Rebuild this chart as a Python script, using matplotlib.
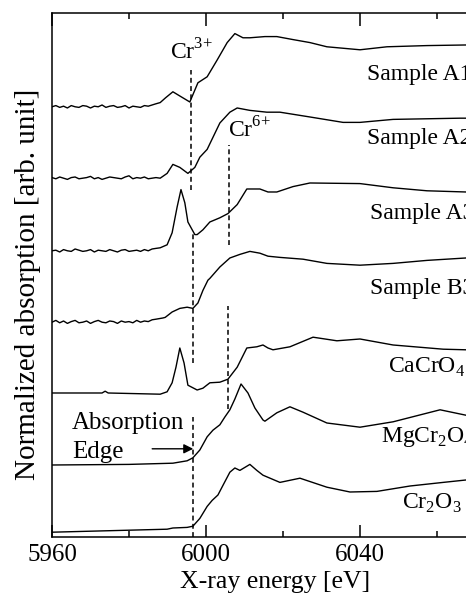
import matplotlib
matplotlib.use("Agg")
import matplotlib.pyplot as plt
from matplotlib.ticker import MultipleLocator

plt.rcParams['font.family'] = ['Liberation Serif', 'DejaVu Serif']
plt.rcParams['mathtext.fontset'] = 'custom'
plt.rcParams['mathtext.rm'] = 'Liberation Serif'

# pre-edge energy grid (eV) shared by the noisy sample spectra
pre_e = list(range(5960, 5988))

# Sample A1
a1_noise = [0.00, 0.02, -0.01, 0.01, -0.02, 0.02, 0.00, -0.01, 0.02, 0.01, -0.02, 0.01, 0.00, 0.03,
            -0.01, 0.01, 0.02, -0.01, 0.00, 0.02, -0.02, 0.01, 0.00, -0.01, 0.02, 0.01, 0.03, 0.05]
a1_e = pre_e + [5988.1, 5989.5, 5991.4, 5993.2, 5995.8, 5997.9, 6000.3, 6002.9, 6005.5, 6007.5, 6009.6,
                6011.4, 6015.3, 6018.4, 6022.6, 6027.0, 6031.4, 6040.0, 6047.0, 6057.4, 6067.5, 6075]
a1_v = a1_noise + [0.07, 0.15, 0.25, 0.18, 0.08, 0.40, 0.50, 0.78, 1.07, 1.22, 1.15,
                   1.15, 1.17, 1.17, 1.12, 1.07, 1.00, 0.95, 1.00, 1.02, 1.03, 1.03]

# Sample A2
a2_noise = [0.01, -0.01, 0.02, 0.00, -0.02, 0.01, 0.02, -0.01, 0.00, 0.01, 0.03, -0.01, 0.01, -0.02,
            0.00, 0.02, 0.01, 0.00, -0.01, 0.02, 0.04, -0.01, 0.01, 0.00, 0.02, -0.01, 0.00, 0.01]
a2_e = pre_e + [5988.1, 5989.9, 5991.4, 5993.2, 5995.3, 5997.1, 5998.4, 6000.3, 6003.6, 6006.2, 6008.1,
                6011.4, 6015.8, 6019.2, 6027.0, 6035.6, 6040.0, 6048.6, 6066.0, 6075]
a2_v = a2_noise + [0.00, 0.08, 0.23, 0.18, 0.08, 0.18, 0.35, 0.48, 0.92, 1.10, 1.17,
                   1.13, 1.10, 1.10, 1.02, 0.93, 0.93, 0.98, 1.00, 1.00]

# Sample A3
a3_noise = [0.00, 0.01, -0.02, 0.02, 0.00, -0.01, 0.03, 0.01, -0.01, 0.00, 0.02, -0.02, 0.01, 0.00,
            -0.01, 0.02, 0.00, -0.02, 0.01, 0.02, -0.01, 0.00, 0.01, -0.01, 0.02, 0.00, 0.03, 0.04]
a3_e = pre_e + [5988.1, 5989.9, 5991.2, 5992.5, 5993.5, 5994.5, 5995.3, 5997.1, 5997.7, 5999.2, 6001.0,
                6003.6, 6005.7, 6008.1, 6010.6, 6014.0, 6016.1, 6018.4, 6022.6, 6027.0, 6040.0,
                6048.6, 6057.4, 6067.5, 6075]
a3_v = a3_noise + [0.05, 0.10, 0.30, 0.73, 1.02, 0.80, 0.48, 0.27, 0.27, 0.35, 0.48,
                   0.55, 0.62, 0.77, 1.03, 1.03, 0.98, 0.98, 1.07, 1.13, 1.12,
                   1.05, 1.00, 0.98, 0.98]

# Sample B3
b3_noise = [0.00, 0.03, -0.01, 0.02, -0.02, 0.01, 0.03, -0.01, 0.00, 0.02, -0.02, 0.01, 0.03, 0.00,
            -0.01, 0.02, 0.01, -0.02, 0.02, 0.00, 0.01, -0.01, 0.03, 0.00, 0.02, 0.01, 0.04, 0.05]
b3_e = pre_e + [5988.8, 5989.4, 5991.2, 5993.2, 5995.1, 5996.6, 5997.9, 5999.2, 6000.5, 6001.0, 6003.6,
                6006.2, 6008.8, 6011.4, 6014.0, 6016.1, 6019.2, 6025.2, 6031.4, 6040.0, 6048.6,
                6057.4, 6067.5, 6075]
b3_v = b3_noise + [0.07, 0.08, 0.17, 0.23, 0.25, 0.23, 0.32, 0.53, 0.70, 0.73, 0.92,
                   1.07, 1.13, 1.18, 1.15, 1.10, 1.08, 1.05, 0.98, 0.95, 0.98,
                   1.03, 1.07, 1.07]

# CaCrO4
ca_e = [5960, 5973, 5973.8, 5974.6, 5988.1, 5989.9, 5991.2, 5992.2, 5993.2, 5994.3, 5995.3, 5997.7,
        5999.2, 6001.0, 6003.6, 6005.7, 6008.1, 6010.6, 6013.2, 6014.8, 6016.1, 6017.4, 6021.8,
        6027.8, 6034.0, 6040.0, 6048.6, 6061.6, 6067.5, 6075]
ca_v = [0.00, 0.00, 0.03, 0.00, -0.02, 0.02, 0.17, 0.43, 0.75, 0.50, 0.13, 0.05,
        0.08, 0.17, 0.18, 0.23, 0.43, 0.75, 0.77, 0.80, 0.75, 0.72, 0.77,
        0.93, 0.87, 0.90, 0.80, 0.73, 0.72, 0.72]

# MgCr2O4
mg_e = [5960, 5980, 5991.4, 5995.1, 5996.6, 5998.4, 6000.3, 6001.8, 6003.6, 6004.9, 6006.2, 6007.5,
        6009.1, 6010.9, 6012.7, 6014.8, 6015.3, 6018.4, 6021.8, 6025.2, 6031.4, 6040.0, 6048.6,
        6060.8, 6067.5, 6075]
mg_v = [0.00, 0.01, 0.03, 0.07, 0.12, 0.25, 0.47, 0.58, 0.67, 0.80, 0.92, 1.10,
        1.35, 1.20, 0.95, 0.75, 0.73, 0.87, 0.97, 0.88, 0.70, 0.63, 0.72,
        0.92, 0.83, 0.80]

# Cr2O3
cr_e = [5960, 5989.9, 5991.4, 5995.1, 5996.6, 5998.4, 6000.3, 6001.6, 6003.1, 6004.4, 6006.2, 6007.5,
        6008.8, 6011.4, 6013.2, 6014.8, 6019.2, 6024.4, 6031.4, 6037.4, 6044.4, 6053.0, 6061.6,
        6067.5, 6075]
cr_v = [0.00, 0.05, 0.07, 0.08, 0.10, 0.23, 0.43, 0.53, 0.62, 0.78, 1.00, 1.07,
        1.03, 1.13, 1.03, 0.95, 0.83, 0.90, 0.75, 0.67, 0.68, 0.77, 0.83,
        0.87, 0.88]

spectra = [
    (a1_e, a1_v, 7.17, "Sample A1", 6041.8, 7.62),
    (a2_e, a2_v, 5.98, "Sample A2", 6041.8, 6.55),
    (a3_e, a3_v, 4.77, "Sample A3", 6042.6, 5.30),
    (b3_e, b3_v, 3.58, "Sample B3", 6042.6, 4.05),
    (ca_e, ca_v, 2.40, r"CaCrO$_\mathregular{4}$", 6047.3, 2.73),
    (mg_e, mg_v, 1.20, r"MgCr$_\mathregular{2}$O$_\mathregular{4}$", 6045.5, 1.58),
    (cr_e, cr_v, 0.08, r"Cr$_\mathregular{2}$O$_\mathregular{3}$", 6050.9, 0.47),
]

fig = plt.figure(figsize=(4.66, 5.98), dpi=100)
ax = fig.add_axes([52 / 466, 1 - 537 / 598, 442.75 / 466, 524 / 598])

for e, v, off, name, tx, ty in spectra:
    ax.plot(e, [val + off for val in v], color='black', lw=1.0)
    ax.text(tx, ty, name, fontsize=17, va='baseline', ha='left', clip_on=False)

# dashed guide lines
dash = (0, (3.2, 2.2))
ax.plot([5996.1, 5996.1], [5.78, 7.78], color='black', lw=1.1, linestyle=dash)
ax.plot([5996.6, 5996.6], [2.90, 5.07], color='black', lw=1.1, linestyle=dash)
ax.plot([5996.6, 5996.6], [0.0, 2.00], color='black', lw=1.1, linestyle=dash)
ax.plot([6006.0, 6006.0], [4.87, 6.53], color='black', lw=1.1, linestyle=dash)
ax.plot([6005.7, 6005.7], [2.13, 3.85], color='black', lw=1.1, linestyle=dash)

ax.text(5990.6, 7.95, r"Cr$^{\mathregular{3{+}}}$", fontsize=17, va='baseline')
ax.text(6005.7, 6.65, r"Cr$^{\mathregular{6{+}}}$", fontsize=17, va='baseline')
ax.text(5965.2, 1.80, "Absorption", fontsize=18, va='baseline')
ax.text(5965.2, 1.32, "Edge", fontsize=18, va='baseline')
ax.annotate("", xy=(5997.4, 1.47), xytext=(5985.3, 1.47),
            arrowprops=dict(arrowstyle='-|>', color='black', lw=1.0, mutation_scale=14))

ax.set_xlim(5960, 6075)
ax.set_ylim(0, 8.733)
ax.xaxis.set_major_locator(MultipleLocator(40))
ax.xaxis.set_minor_locator(MultipleLocator(20))
ax.tick_params(axis='x', which='both', direction='in', top=True, labelsize=18, pad=5)
ax.tick_params(axis='x', which='major', length=9, width=1.1)
ax.tick_params(axis='x', which='minor', length=4, width=1.1)
ax.set_yticks([])
for s in ax.spines.values():
    s.set_linewidth(1.1)

fig.text(275 / 466, 1 - 582 / 598, "X-ray energy [eV]", fontsize=18.5, ha='center', va='center')
fig.text(28 / 466, 1 - 284 / 598, "Normalized absorption [arb. unit]", fontsize=21,
         ha='center', va='center', rotation=90)

fig.savefig("out.png", dpi=100)
